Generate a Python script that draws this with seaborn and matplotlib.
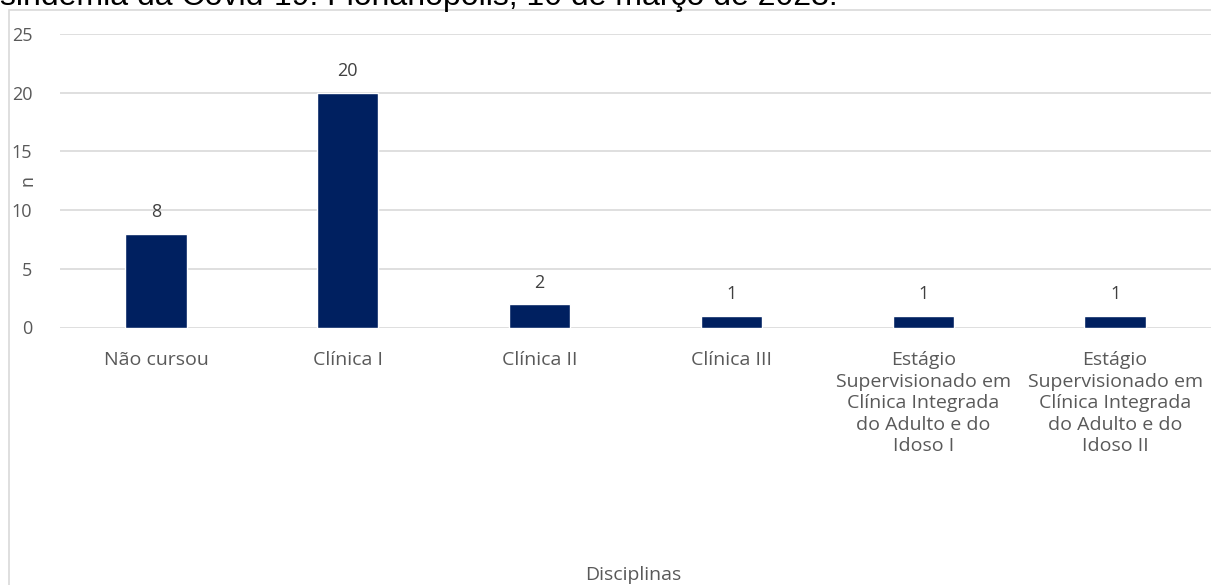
import matplotlib
matplotlib.use("Agg")
import matplotlib.pyplot as plt
import seaborn as sns
import pandas as pd
from matplotlib.patches import Rectangle

# Data
disciplinas = [
    "Não cursou",
    "Clínica I",
    "Clínica II",
    "Clínica III",
    "Estágio\nSupervisionado em\nClínica Integrada\ndo Adulto e do\nIdoso I",
    "Estágio\nSupervisionado em\nClínica Integrada\ndo Adulto e do\nIdoso II",
]
n_values = [8, 20, 2, 1, 1, 1]
y_ticks = [0, 5, 10, 15, 20, 25]

df = pd.DataFrame({"Disciplinas": disciplinas, "n": n_values})

sns.set_theme(style="white")
plt.rcParams["font.family"] = ["Open Sans", "DejaVu Sans"]

W, H = 1211, 585
fig = plt.figure(figsize=(W / 100, H / 100), dpi=100)

# Chart-area frame
fig.patches.append(Rectangle((8.5 / W, -0.01), 1.02, 1 - 10 / H + 0.01,
                             transform=fig.transFigure, fill=False,
                             edgecolor="#d9d9d9", linewidth=1.2, zorder=0))

ax = fig.add_axes([60 / W, (H - 327.5) / H, 1 - 60 / W, (327.5 - 34) / H])

bar_color = "#002060"
sns.barplot(data=df, x="Disciplinas", y="n", color=bar_color,
            width=0.32, saturation=1, ax=ax, zorder=3)

ax.set_ylim(0, 25)
ax.set_yticks(y_ticks)
ax.set_xlim(-0.5, len(disciplinas) - 0.5)
ax.yaxis.grid(True, color="#d9d9d9", linewidth=1.2, zorder=0)
ax.xaxis.grid(False)
for s in ax.spines.values():
    s.set_visible(False)
ax.tick_params(axis="y", length=0, labelsize=13, colors="#595959", pad=20)
ax.tick_params(axis="x", length=0, labelsize=14, colors="#595959", pad=17)
for lbl in ax.get_xticklabels():
    lbl.set_linespacing(1.25)

for i, v in enumerate(n_values):
    ax.annotate(str(v), (i, v), xytext=(0, 9), textcoords="offset points",
                ha="center", va="bottom", fontsize=13, color="#404040")

ax.set_ylabel("n", fontsize=13, color="#595959")
ax.yaxis.set_label_coords((37 - 60) / (W - 60), (327.5 - 180) / (327.5 - 34))
ax.set_xlabel("")
fig.text(633 / W, 1 - 575 / H, "Disciplinas", ha="center", va="center",
         fontsize=14, color="#595959")

# Caption line running off the top edge
fig.text(0, 1 - 5 / H, "sindemia da Covid-19. Florianópolis, 10 de março de 2023.",
         ha="left", va="baseline", fontsize=23,
         family=["Liberation Sans", "DejaVu Sans"], color="black")

fig.savefig("out.png", dpi=100)
